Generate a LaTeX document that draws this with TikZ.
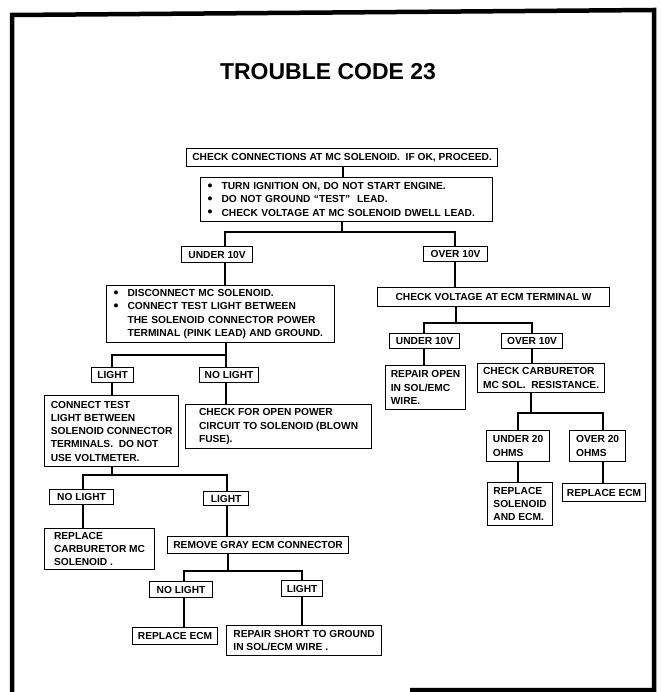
\documentclass[tikz,border=0pt]{standalone}
\usepackage{fontspec}
\setmainfont{Liberation Sans}
% bullet and hanging indent for the checklist boxes
\newcommand\itembul{\makebox[15pt][l]{\hspace{1pt}\raisebox{-0.6pt}{\fontsize{14}{0}\selectfont\textbullet}}}
\newcommand\itemgap{\hspace*{15pt}}
\begin{document}
\begin{tikzpicture}[x=1pt,y=-1pt,
  every node/.style={inner sep=0pt},
  cbox/.style 2 args={draw, line width=1.2pt, anchor=north west,
    minimum width=#1, minimum height=#2, align=left,
    font=\bfseries\fontsize{10.2}{13.3}\selectfont},
  ctext/.style={align=center},
  listbox/.style={inner xsep=6pt, text width=#1},
  conn/.style={line width=1.2pt},
  frame/.style={line width=4.5pt, line join=miter},
  heading/.style={font=\bfseries\fontsize{23}{26}\selectfont}]
\useasboundingbox (0,0) rectangle (660,692);

% outer frame
\draw[frame] (12,692) -- (12,15) -- (654,10) -- (654,690) -- (410,690);

\node[heading] (title) at (328,72) {TROUBLE CODE 23};

% boxes
\node[cbox={311}{18}, ctext] (b1) at (186,148) {CHECK CONNECTIONS AT MC SOLENOID.\ \ IF OK, PROCEED.};
\node[cbox={292}{44}, listbox=280pt] (b2) at (200,177) {\itembul TURN IGNITION ON, DO NOT START ENGINE.\\
  \itembul DO NOT GROUND “TEST”\ \ LEAD.\\
  \itembul CHECK VOLTAGE AT MC SOLENOID DWELL LEAD.};
\node[cbox={71}{16}, ctext] (ul) at (181,246) {UNDER 10V};
\node[cbox={64}{15}, ctext] (or) at (423,246) {OVER 10V};
\node[cbox={228}{57}, listbox=216pt] (disc) at (106,285) {\itembul DISCONNECT MC SOLENOID.\\
  \itembul CONNECT TEST LIGHT BETWEEN\\
  \itemgap THE SOLENOID CONNECTOR POWER\\
  \itemgap TERMINAL (PINK LEAD) AND GROUND.};
\node[cbox={232}{19}, ctext] (cv) at (377,287) {CHECK VOLTAGE AT ECM TERMINAL W};
\node[cbox={42}{15}, ctext] (l1) at (91,367) {LIGHT};
\node[cbox={59}{15}, ctext] (nl1) at (199,367) {NO LIGHT};
\node[cbox={70}{15}, ctext] (ur) at (389,333) {UNDER 10V};
\node[cbox={61}{15}, ctext] (orr) at (501,333) {OVER 10V};
\node[cbox={80}{44}] (ro) at (385,365) {REPAIR OPEN\\IN SOL/EMC\\WIRE.};
\node[cbox={127}{29}] (cc) at (477,363) {CHECK CARBURETOR\\MC SOL.\ \ RESISTANCE.};
\node[cbox={134}{71}] (ct) at (44,395) {CONNECT TEST\\LIGHT BETWEEN\\SOLENOID CONNECTOR\\TERMINALS.\ \ DO NOT\\USE VOLTMETER.};
\node[cbox={186}{44}] (cf) at (185,404) {CHECK FOR OPEN POWER\\CIRCUIT TO SOLENOID (BLOWN\\FUSE).};
\node[cbox={63}{31}] (u20) at (486,430) {UNDER 20\\OHMS};
\node[cbox={56}{31}] (o20) at (569,430) {OVER 20\\OHMS};
\node[cbox={65}{43}] (rs) at (487,482) {REPLACE\\SOLENOID\\AND ECM.};
\node[cbox={83}{18}, ctext] (re2) at (562,483) {REPLACE ECM};
\node[cbox={64}{15}, ctext] (nl2) at (49,489) {NO LIGHT};
\node[cbox={45}{14}, ctext] (l2) at (203,491) {LIGHT};
\node[cbox={110}{41}] (rc) at (44,528) {REPLACE\\CARBURETOR MC\\SOLENOID .};
\node[cbox={181}{17}, ctext] (rg) at (167,536) {REMOVE GRAY ECM CONNECTOR};
\node[cbox={63}{16}, ctext] (nl3) at (149,581) {NO LIGHT};
\node[cbox={41}{16}, ctext] (l3) at (281,580) {LIGHT};
\node[cbox={85}{17}, ctext] (re) at (132,627) {REPLACE ECM};
\node[cbox={155}{30}] (rsh) at (226,625) {REPAIR SHORT TO GROUND\\IN SOL/ECM WIRE .};

% branch points and connector columns
\coordinate (j1) at (342,232);
\coordinate (j2) at (226,355);
\coordinate (j3) at (112,475);
\coordinate (j4) at (228,571);
\coordinate (j5) at (456,323);
\coordinate (j6) at (531,413);
\coordinate (xa) at (343,0);
\coordinate (xul) at (225,0);
\coordinate (xor) at (455,0);
\coordinate (xl1) at (112,0);
\coordinate (xnl2) at (83,0);
\coordinate (xl2) at (227,0);
\coordinate (xnl3) at (184,0);
\coordinate (xl3) at (302,0);
\coordinate (xur) at (424,0);
\coordinate (xorr) at (532,0);
\coordinate (xu20) at (518,0);
\coordinate (xo20) at (603,0);

% connectors
\draw[conn] (b1.south -| xa) -- (b2.north -| xa);
\draw[conn] (b2.south -| j1) -- (j1);
\draw[conn] (ul.north -| xul) |- (j1) -| (or.north -| xor);
\draw[conn] (ul.south -| xul) -- (disc.north -| xul);
\draw[conn] (disc.south -| j2) -- (nl1.north -| j2);
\draw[conn] (l1.north -| xl1) |- (j2);
\draw[conn] (nl1.south -| j2) -- (cf.north -| j2);
\draw[conn] (l1.south -| xl1) -- (ct.north -| xl1);
\draw[conn] (ct.south -| j3) -- (j3);
\draw[conn] (nl2.north -| xnl2) |- (j3) -| (l2.north -| xl2);
\draw[conn] (nl2.south -| xnl2) -- (rc.north -| xnl2);
\draw[conn] (l2.south -| xl2) -- (rg.north -| xl2);
\draw[conn] (rg.south -| j4) -- (j4);
\draw[conn] (nl3.north -| xnl3) |- (j4) -| (l3.north -| xl3);
\draw[conn] (nl3.south -| xnl3) -- (re.north -| xnl3);
\draw[conn] (l3.south -| xl3) -- (rsh.north -| xl3);
\draw[conn] (or.south -| xor) -- (cv.north -| xor);
\draw[conn] (cv.south -| j5) -- (j5);
\draw[conn] (ur.north -| xur) |- (j5) -| (orr.north -| xorr);
\draw[conn] (ur.south -| xur) -- (ro.north -| xur);
\draw[conn] (orr.south -| xorr) -- (cc.north -| xorr);
\draw[conn] (cc.south -| j6) -- (j6);
\draw[conn] (u20.north -| xu20) |- (j6) -| (o20.north -| xo20);
\draw[conn] (u20.south -| xu20) -- (rs.north -| xu20);
\draw[conn] (o20.south -| xo20) -- (re2.north -| xo20);
\end{tikzpicture}
\end{document}
